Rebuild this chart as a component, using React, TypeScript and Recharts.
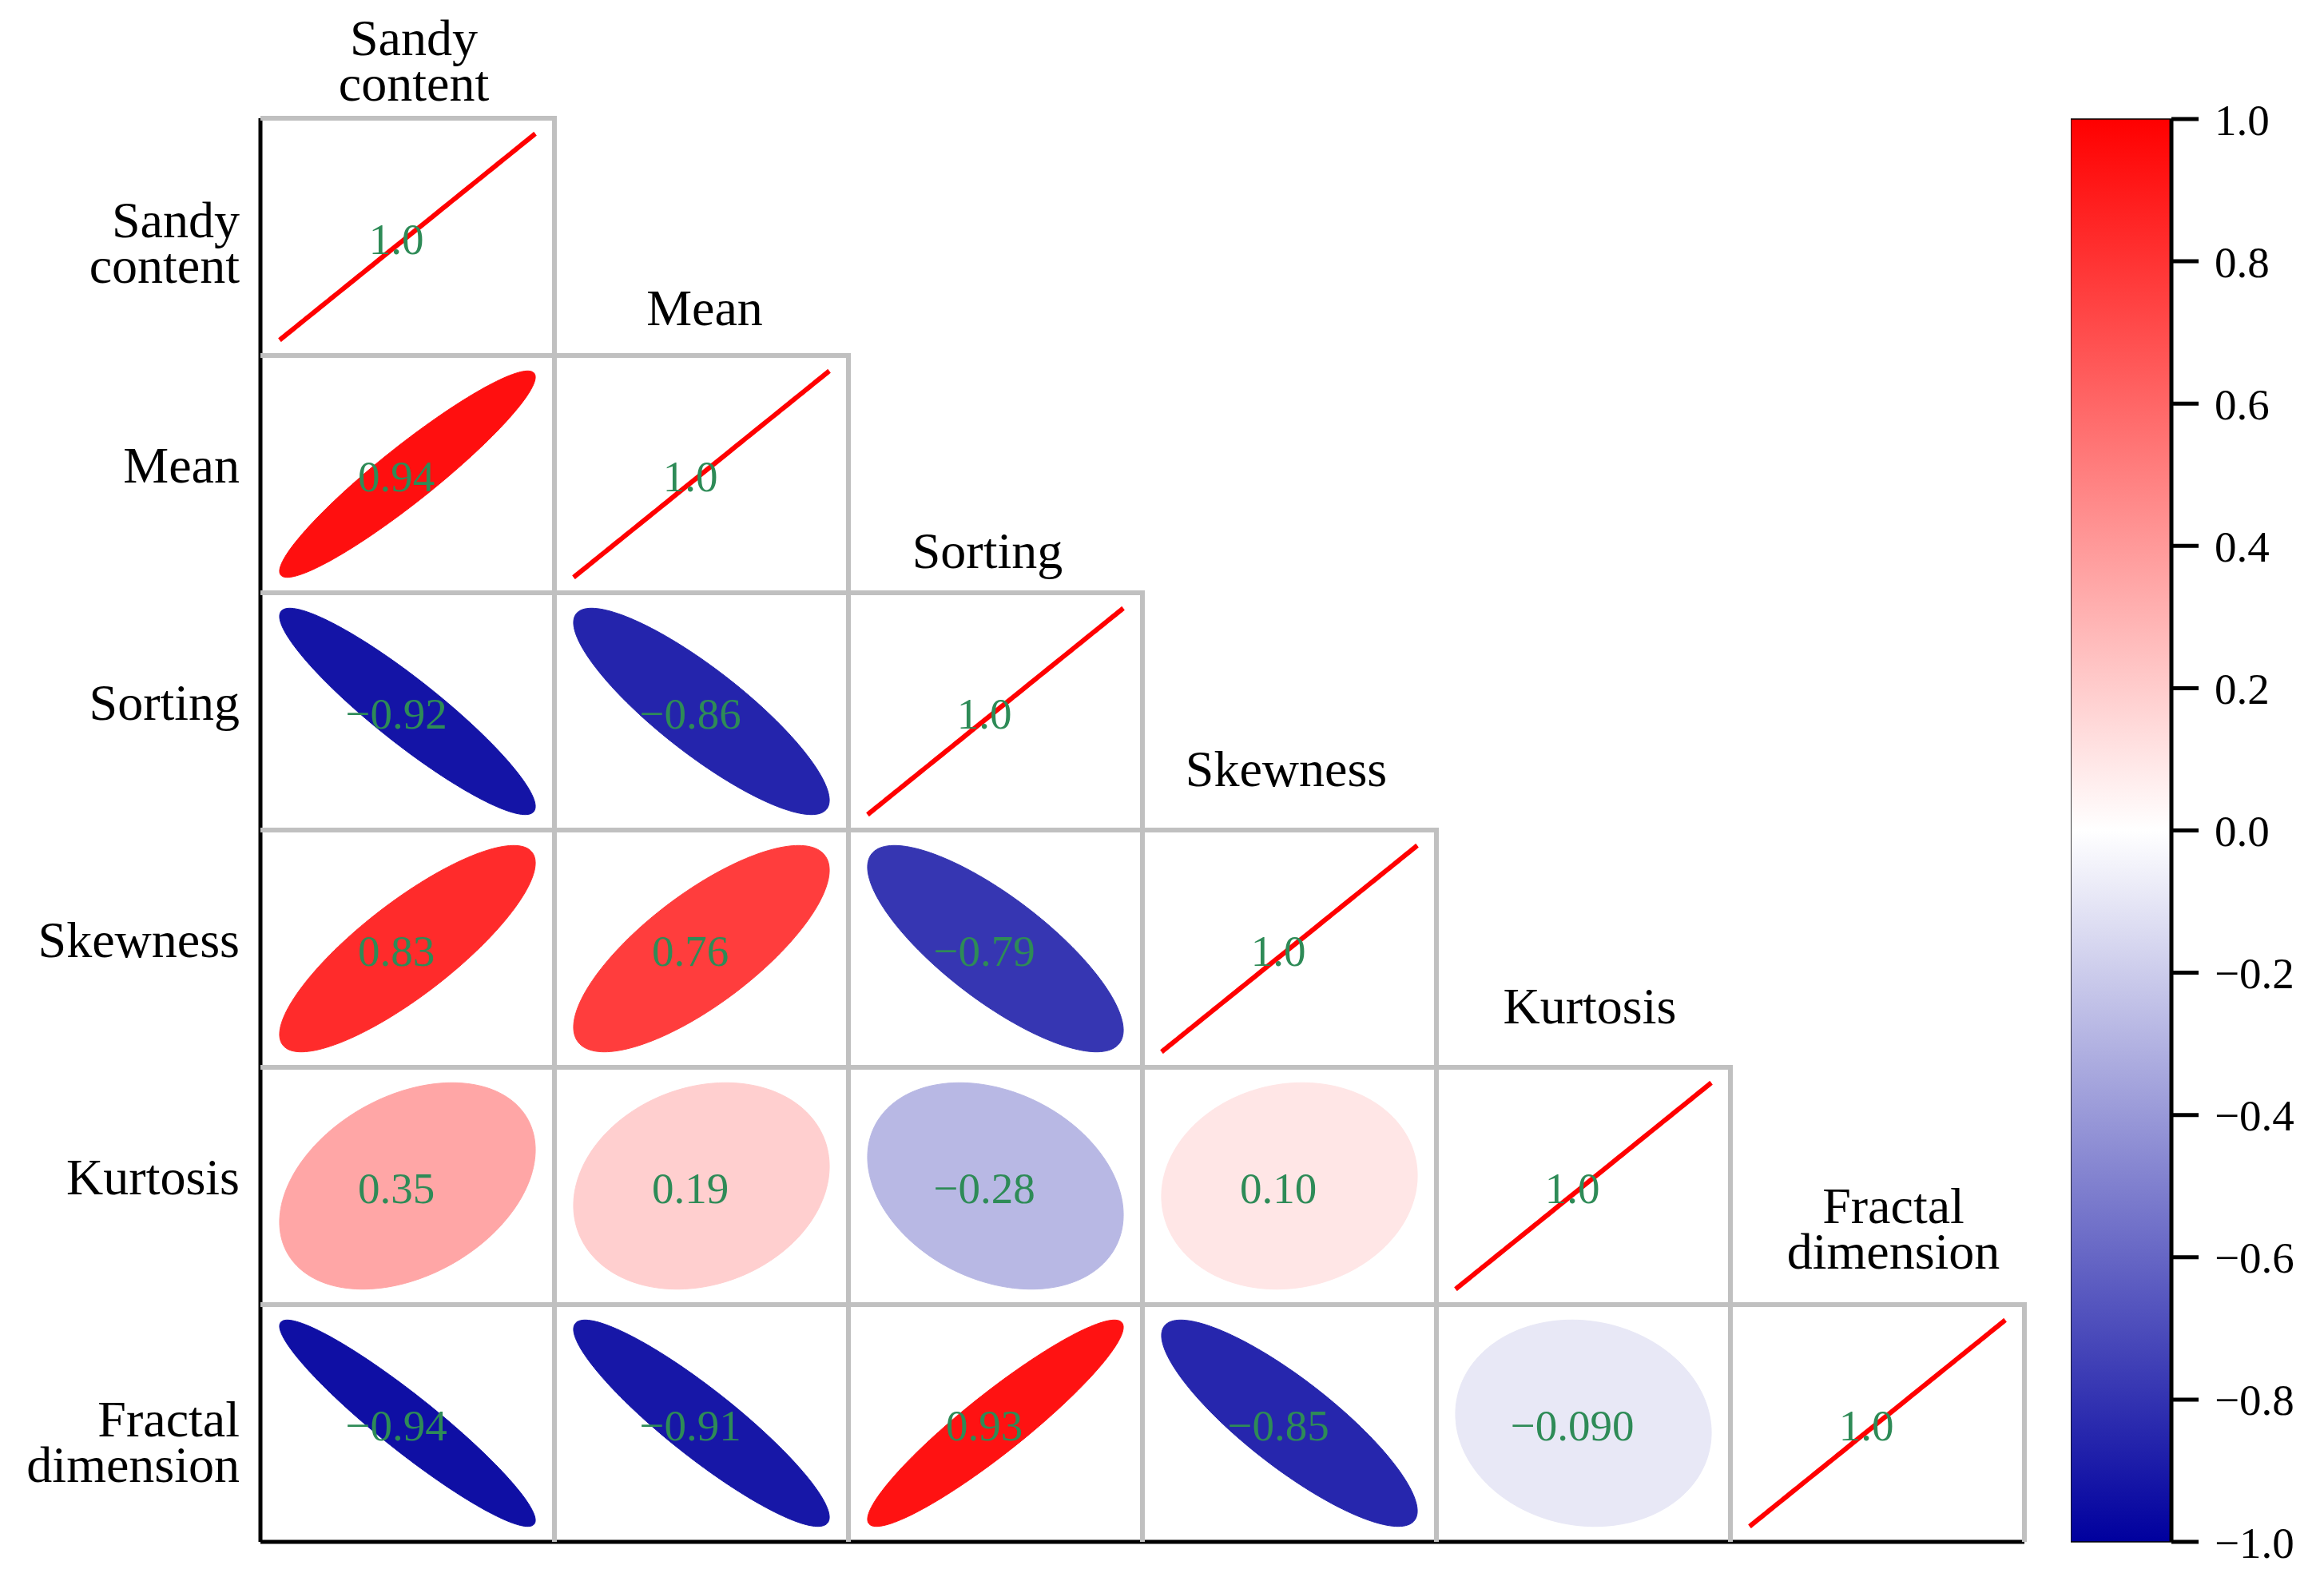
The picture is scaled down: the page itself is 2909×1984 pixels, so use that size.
import React from 'react';
import { ScatterChart, Scatter, XAxis, YAxis, BarChart, Bar } from 'recharts';

// ---------- data ----------
const VARIABLES = ['Sandy content', 'Mean', 'Sorting', 'Skewness', 'Kurtosis', 'Fractal dimension'];
const ROW_SANDY = [1.0];
const ROW_MEAN = [0.94, 1.0];
const ROW_SORTING = [-0.92, -0.86, 1.0];
const ROW_SKEWNESS = [0.83, 0.76, -0.79, 1.0];
const ROW_KURTOSIS = [0.35, 0.19, -0.28, 0.1, 1.0];
const ROW_FRACTAL = [-0.94, -0.91, 0.93, -0.85, -0.09, 1.0];
const CORR_ROWS = [ROW_SANDY, ROW_MEAN, ROW_SORTING, ROW_SKEWNESS, ROW_KURTOSIS, ROW_FRACTAL];
const COLORBAR_TICKS = [-1, -0.8, -0.6, -0.4, -0.2, 0, 0.2, 0.4, 0.6, 0.8, 1];
const COLORBAR_DATA = [{ name: 'scale', range: [-1, 1] }];

// ---------- layout / style ----------
const FONT = '"Liberation Serif", "Times New Roman", Times, serif';
const CHART_W = 2552;
const CHART_H = 1960;
const MARGIN = { top: 140, right: 26, bottom: 0, left: 0 };
const Y_AXIS_W = 318;
const X_AXIS_H = 38;
const N = VARIABLES.length;
const PLOT_W = CHART_W - MARGIN.left - MARGIN.right - Y_AXIS_W;
const PLOT_H = CHART_H - MARGIN.top - MARGIN.bottom - X_AXIS_H;
const CELL_W = PLOT_W / N;
const CELL_H = PLOT_H / N;
const ELLIPSE_SCALE = 0.87;
const GRID = '#c0c0c0';
const GRID_W = 6;
const VALUE_COLOR = '#2e8b57';
const LABEL_SIZE = 64;
const LINE_GAP = 57;
const COL_LABEL_GAP = [22, 38, 31, 55, 55, 45];
const COL_LABEL_DX = [8, 4, -10, -4, 8, 20];
const ROW_LABEL_DY = [0, 10, 10, 10, 10, 16];
const POS_END = [255, 0, 0];
const NEG_END = [0, 0, 158];

const fmt = (v: number) => v.toPrecision(2).replace('-', '\u2212');
const fmtTick = (v: number) => (Math.abs(v) < 1e-9 ? '0.0' : v.toFixed(1).replace('-', '\u2212'));

function corrColor(v: number) {
  const t = Math.min(1, Math.abs(v));
  const end = v >= 0 ? POS_END : NEG_END;
  const c = [0, 1, 2].map((i) => Math.round(255 + (end[i] - 255) * t));
  return `rgb(${c[0]},${c[1]},${c[2]})`;
}

function ellipsePath(cx: number, cy: number, r: number, rx: number, ry: number) {
  const d = Math.acos(Math.max(-1, Math.min(1, r)));
  const steps = 160;
  let s = '';
  for (let i = 0; i <= steps; i++) {
    const t = (2 * Math.PI * i) / steps;
    const ex = Math.cos(t + d / 2);
    const ey = Math.cos(t - d / 2);
    s += (i ? 'L' : 'M') + (cx + ex * rx).toFixed(2) + ',' + (cy - ey * ry).toFixed(2);
  }
  return s + 'Z';
}

function CellShape(props: any) {
  const { cx, cy, payload } = props;
  if (cx == null || cy == null || !payload) return <g />;
  const c = payload.x as number;
  const r = payload.y as number;
  const value = payload.value as number;
  const hw = CELL_W / 2;
  const hh = CELL_H / 2;
  const x0 = cx - hw, x1 = cx + hw, y0 = cy - hh, y1 = cy + hh;
  const color = corrColor(value);
  const isLine = Math.abs(value) >= 0.999;
  const labelLines = VARIABLES[c].split(' ');
  const lastBase = y0 - COL_LABEL_GAP[c];
  return (
    <g>
      <path d={`M${x0},${y0}L${x1},${y0}L${x1},${y1}`} fill="none" stroke={GRID} strokeWidth={GRID_W} strokeLinejoin="miter" />
      {c > 0 && <line x1={x0} y1={y0} x2={x0} y2={y1} stroke={GRID} strokeWidth={GRID_W} />}
      {r < N - 1 && <line x1={x0} y1={y1} x2={x1} y2={y1} stroke={GRID} strokeWidth={GRID_W} />}
      <path
        d={ellipsePath(cx, cy, value, hw * ELLIPSE_SCALE, hh * ELLIPSE_SCALE)}
        fill={isLine ? 'none' : color}
        stroke={color}
        strokeWidth={isLine ? 6 : 1}
      />
      <text x={cx - 14} y={cy + 21} textAnchor="middle" fill={VALUE_COLOR} fontSize={55} fontFamily={FONT}>
        {fmt(value)}
      </text>
      {c === r && (
        <text textAnchor="middle" fill="#000" fontSize={LABEL_SIZE} fontFamily={FONT}>
          {labelLines.map((ln, i) => (
            <tspan key={i} x={cx + COL_LABEL_DX[c]} y={lastBase - (labelLines.length - 1 - i) * LINE_GAP}>
              {ln}
            </tspan>
          ))}
        </text>
      )}
    </g>
  );
}

function RowTick(props: any) {
  const { x, y, payload } = props;
  const idx = payload.value as number;
  const lines = VARIABLES[idx].split(' ');
  const first = y + ROW_LABEL_DY[idx];
  return (
    <text textAnchor="end" fill="#000" fontSize={LABEL_SIZE} fontFamily={FONT}>
      {lines.map((ln: string, i: number) => (
        <tspan key={i} x={x} y={first + i * LINE_GAP}>
          {ln}
        </tspan>
      ))}
    </text>
  );
}

export default function App() {
  const data = CORR_ROWS.flatMap((row, r) => row.map((value, c) => ({ x: c, y: r, value })));
  return (
    <div style={{ position: 'relative', width: 2893, height: CHART_H, fontFamily: FONT }}>
      <ScatterChart width={CHART_W} height={CHART_H} margin={MARGIN}>
        <XAxis
          type="number"
          dataKey="x"
          domain={[-0.5, N - 0.5]}
          tick={false}
          tickLine={false}
          axisLine={{ stroke: '#000', strokeWidth: 5 }}
          height={X_AXIS_H}
        />
        <YAxis
          type="number"
          dataKey="y"
          domain={[-0.5, N - 0.5]}
          reversed
          ticks={VARIABLES.map((_, i) => i)}
          interval={0}
          tickLine={false}
          tickSize={0}
          tickMargin={26}
          axisLine={{ stroke: '#000', strokeWidth: 5 }}
          width={Y_AXIS_W}
          tick={(p: any) => <RowTick key={p.index} {...p} />}
        />
        <Scatter data={data} shape={CellShape} isAnimationActive={false} />
      </ScatterChart>
      <div style={{ position: 'absolute', left: 2584, top: 0 }}>
        <BarChart
          width={306}
          height={CHART_H}
          data={COLORBAR_DATA}
          margin={{ top: 141, right: 0, bottom: 38, left: 0 }}
          barCategoryGap={0}
        >
          <defs>
            <linearGradient id="cbGrad" x1="0" y1="0" x2="0" y2="1">
              <stop offset="0%" stopColor="rgb(255,0,0)" />
              <stop offset="50%" stopColor="rgb(255,255,255)" />
              <stop offset="100%" stopColor="rgb(0,0,158)" />
            </linearGradient>
          </defs>
          <XAxis dataKey="name" hide />
          <YAxis
            orientation="right"
            type="number"
            domain={[-1, 1]}
            ticks={COLORBAR_TICKS}
            interval={0}
            width={180}
            tickSize={34}
            tickMargin={20}
            tickLine={{ stroke: '#000', strokeWidth: 5 }}
            axisLine={{ stroke: '#000', strokeWidth: 5 }}
            tick={{ fill: '#000', fontSize: 55, fontFamily: FONT }}
            tickFormatter={fmtTick}
          />
          <Bar dataKey="range" fill="url(#cbGrad)" stroke="#000" strokeWidth={1.5} isAnimationActive={false} />
        </BarChart>
      </div>
    </div>
  );
}
